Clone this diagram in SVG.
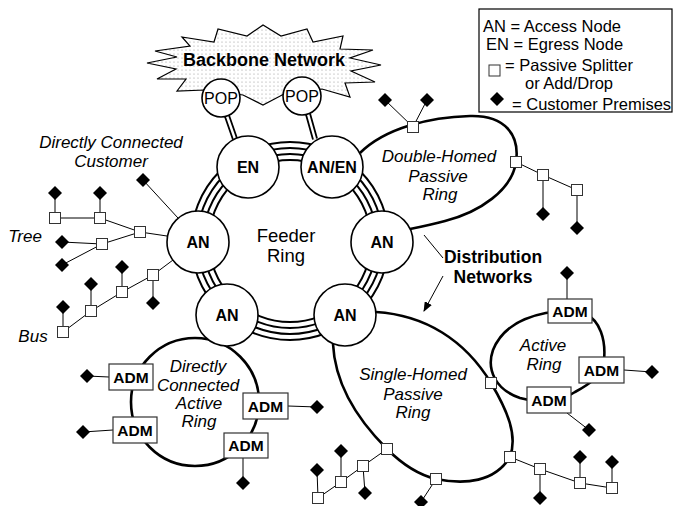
<svg xmlns="http://www.w3.org/2000/svg" xmlns:xlink="http://www.w3.org/1999/xlink" width="676" height="506" viewBox="0 0 676 506">
<style>
text{font-family:"Liberation Sans",Arial,sans-serif;fill:#000}
.lbl{font-size:17px;font-style:italic;text-anchor:middle}
.leg{font-size:16.5px}
.nd{font-size:16px;font-weight:bold;text-anchor:middle}
.adm{font-size:15.5px;font-weight:bold;text-anchor:middle}
.node{fill:#fff;stroke:#000;stroke-width:1.6}
.fr{fill:none;stroke:#000;stroke-width:2}
.dist{fill:none;stroke:#000;stroke-width:2.6}
.thin{fill:none;stroke:#000;stroke-width:1}
.sq{fill:#fff;stroke:#333;stroke-width:1}
.dia{fill:#000}
.box{fill:#fff;stroke:#333;stroke-width:1.2}
</style>
<defs>
<pattern id="dots" width="4" height="4" patternUnits="userSpaceOnUse">
<rect width="4" height="4" fill="#fff"/>
<circle cx="2" cy="2" r="0.6" fill="#999"/>
</pattern>
<rect id="sq" class="sq" x="-5.5" y="-5.5" width="11" height="11"/>
<path id="dia" class="dia" d="M0,-7L7,0L0,7L-7,0Z"/>
<marker id="arr" markerWidth="10" markerHeight="8" refX="9" refY="4" orient="auto" markerUnits="userSpaceOnUse">
<path d="M0,0L10,4L0,8Z" fill="#000"/>
</marker>
</defs>

<g id="backbone">
<polygon points="182,37 214,42 218,29 247,36 263,25 281,36 307,29 313,42 343,36 340,49 373,50 350,58 381,65 351,71 375,82 345,83 350,97 322,89 284,94 263,105 243,95 205,90 177,91 186,79 157,79 176,69 147,63 177,57 155,51 190,46" fill="url(#dots)" stroke="#000" stroke-width="1.2"/>
<text x="264" y="66" font-size="18" font-weight="bold" text-anchor="middle">Backbone Network</text>
</g>

<g id="connectors">
<!-- feeder ring bundle -->
<circle class="fr" cx="290" cy="241" r="81"/>
<circle class="fr" cx="290" cy="241" r="87"/>
<circle class="fr" cx="290" cy="241" r="93"/>
<circle class="fr" cx="290" cy="241" r="99"/>
<!-- POP links (double lines) -->
<path d="M227,116L235,139M308,114L315,139" stroke="#000" stroke-width="6" fill="none"/>
<path d="M227,116L235,139M308,114L315,139" stroke="#fff" stroke-width="2.4" fill="none"/>
<!-- distribution rings -->
<path class="dist" d="M360,153C385,128 430,117 470,116C505,115 520,135 516,162C512,190 480,212 445,221C430,225 420,227 410,229"/>
<path class="dist" d="M376,312C425,315 465,340 491,383C507,410 518,435 510,457C495,482 465,485 436,479C415,474 400,462 387,449C358,420 335,385 333,344"/>
<circle class="dist" cx="195" cy="402" r="64"/>
<path class="dist" d="M570,311C540,311 505,320 493,350C486,370 496,390 520,398C540,404 560,402 575,392C590,384 603,375 604,360C606,340 600,320 585,314C578,311 574,311 570,311Z"/>
<!-- left AN: direct customer, tree, bus -->
<path class="thin" d="M143,180L178,218M140,232L167,236M140,232L100,218L55,218M100,193L100,218M55,193L55,218M140,232L102,244L62,265M102,244L62,242"/>
<path class="thin" d="M173,260L153,275L122,292L91,311L63,332M122,267L122,292M91,284L91,311M63,307L63,332M153,275L153,303"/>
<!-- double homed ring branches -->
<path class="thin" d="M385,100L413,127L427,100M516,162L543,175L577,190M543,175L543,214M577,190L577,228"/>
<!-- single homed ring branches -->
<path class="thin" d="M510,457L540,469L580,483L612,488M540,469L540,498M580,483L580,457M612,488L612,462M436,479L421,502M387,449L363,466L341,482L318,498M363,466L365,493M341,482L341,451M318,498L317,470"/>
<!-- ADM customers -->
<path class="thin" d="M87,376L109,377M83,432L113,430M288,406L317,407M243,458L243,483M567,273L567,299M624,370L652,372M567,413L589,430"/>
<!-- distribution network arrows -->
<path class="thin" d="M443,258L424,235M443,276L424,311" marker-end="url(#arr)"/>
</g>

<g id="pop1"><circle class="node" cx="221" cy="98" r="19"/><text x="221" y="104" font-size="16" text-anchor="middle">POP</text></g>
<g id="pop2"><circle class="node" cx="302" cy="96" r="19"/><text x="302" y="102" font-size="16" text-anchor="middle">POP</text></g>

<g id="en"><circle class="node" cx="248" cy="167" r="31"/><text class="nd" x="248" y="173">EN</text></g>
<g id="an-en"><circle class="node" cx="332" cy="167" r="31"/><text class="nd" x="332" y="173">AN/EN</text></g>
<g id="an-left"><circle class="node" cx="198" cy="242" r="31"/><text class="nd" x="198" y="248">AN</text></g>
<g id="an-right"><circle class="node" cx="382" cy="242" r="31"/><text class="nd" x="382" y="248">AN</text></g>
<g id="an-bl"><circle class="node" cx="227" cy="315" r="31"/><text class="nd" x="227" y="321">AN</text></g>
<g id="an-br"><circle class="node" cx="345" cy="315" r="31"/><text class="nd" x="345" y="321">AN</text></g>

<g id="adm1"><rect class="box" x="109" y="364" width="44" height="26"/><text class="adm" x="131" y="383">ADM</text></g>
<g id="adm2"><rect class="box" x="113" y="417" width="44" height="26"/><text class="adm" x="135" y="436">ADM</text></g>
<g id="adm3"><rect class="box" x="243" y="393" width="45" height="26"/><text class="adm" x="265.5" y="412">ADM</text></g>
<g id="adm4"><rect class="box" x="224" y="433" width="44" height="25"/><text class="adm" x="246" y="451">ADM</text></g>
<g id="adm5"><rect class="box" x="548" y="299" width="44" height="24"/><text class="adm" x="570" y="317">ADM</text></g>
<g id="adm6"><rect class="box" x="579" y="357" width="45" height="26"/><text class="adm" x="601.5" y="376">ADM</text></g>
<g id="adm7"><rect class="box" x="527" y="387" width="44" height="26"/><text class="adm" x="549" y="406">ADM</text></g>

<g id="splitters">
<use id="s-tree-root" href="#sq" x="140" y="232"/>
<use id="s-tree-a" href="#sq" x="100" y="218"/>
<use id="s-tree-b" href="#sq" x="55" y="218"/>
<use id="s-tree-c" href="#sq" x="102" y="244"/>
<use id="s-bus-1" href="#sq" x="153" y="275"/>
<use id="s-bus-2" href="#sq" x="122" y="292"/>
<use id="s-bus-3" href="#sq" x="91" y="311"/>
<use id="s-bus-4" href="#sq" x="63" y="332"/>
<use id="s-dh-top" href="#sq" x="413" y="127"/>
<use id="s-dh-right" href="#sq" x="516" y="162"/>
<use id="s-dh-2" href="#sq" x="543" y="175"/>
<use id="s-dh-3" href="#sq" x="577" y="190"/>
<use id="s-sh-1" href="#sq" x="491" y="383"/>
<use id="s-sh-2" href="#sq" x="510" y="457"/>
<use id="s-sh-3" href="#sq" x="436" y="479"/>
<use id="s-sh-4" href="#sq" x="387" y="449"/>
<use id="s-sh-5" href="#sq" x="540" y="469"/>
<use id="s-sh-6" href="#sq" x="580" y="483"/>
<use id="s-sh-7" href="#sq" x="612" y="488"/>
<use id="s-sh-8" href="#sq" x="363" y="466"/>
<use id="s-sh-9" href="#sq" x="341" y="482"/>
<use id="s-sh-10" href="#sq" x="318" y="498"/>
</g>

<g id="customers">
<use id="c-direct" href="#dia" x="143" y="180"/>
<use id="c-t1" href="#dia" x="100" y="193"/>
<use id="c-t2" href="#dia" x="55" y="193"/>
<use id="c-t3" href="#dia" x="62" y="242"/>
<use id="c-t4" href="#dia" x="62" y="265"/>
<use id="c-b1" href="#dia" x="122" y="267"/>
<use id="c-b2" href="#dia" x="91" y="284"/>
<use id="c-b3" href="#dia" x="63" y="307"/>
<use id="c-b4" href="#dia" x="153" y="303"/>
<use id="c-dh1" href="#dia" x="385" y="100"/>
<use id="c-dh2" href="#dia" x="427" y="100"/>
<use id="c-dh3" href="#dia" x="543" y="214"/>
<use id="c-dh4" href="#dia" x="577" y="228"/>
<use id="c-sh1" href="#dia" x="540" y="498"/>
<use id="c-sh2" href="#dia" x="580" y="457"/>
<use id="c-sh3" href="#dia" x="612" y="462"/>
<use id="c-sh4" href="#dia" x="421" y="502"/>
<use id="c-sh5" href="#dia" x="365" y="493"/>
<use id="c-sh6" href="#dia" x="341" y="451"/>
<use id="c-sh7" href="#dia" x="317" y="470"/>
<use id="c-a1" href="#dia" x="87" y="376"/>
<use id="c-a2" href="#dia" x="83" y="432"/>
<use id="c-a3" href="#dia" x="317" y="407"/>
<use id="c-a4" href="#dia" x="243" y="483"/>
<use id="c-a5" href="#dia" x="567" y="273"/>
<use id="c-a6" href="#dia" x="652" y="372"/>
<use id="c-a7" href="#dia" x="589" y="430"/>
</g>

<g id="labels">
<text class="lbl" x="111" y="148">Directly Connected</text>
<text class="lbl" x="111" y="167">Customer</text>
<text class="lbl" x="25" y="242">Tree</text>
<text class="lbl" x="33" y="342">Bus</text>
<text x="286" y="242" font-size="18.5" text-anchor="middle">Feeder</text>
<text x="286" y="262" font-size="18.5" text-anchor="middle">Ring</text>
<text class="lbl" x="439" y="162">Double-Homed</text>
<text class="lbl" x="438" y="182">Passive</text>
<text class="lbl" x="440" y="200">Ring</text>
<text x="493" y="263" font-size="17.5" font-weight="bold" text-anchor="middle">Distribution</text>
<text x="493" y="283" font-size="17.5" font-weight="bold" text-anchor="middle">Networks</text>
<text class="lbl" x="413" y="380">Single-Homed</text>
<text class="lbl" x="413" y="400">Passive</text>
<text class="lbl" x="413" y="418">Ring</text>
<text class="lbl" x="543" y="351">Active</text>
<text class="lbl" x="544" y="370">Ring</text>
<text class="lbl" x="198" y="372">Directly</text>
<text class="lbl" x="198" y="391">Connected</text>
<text class="lbl" x="199" y="409">Active</text>
<text class="lbl" x="199" y="427">Ring</text>
</g>

<g id="legend">
<rect x="479" y="9" width="193" height="103" fill="#fff" stroke="#000" stroke-width="1.2"/>
<text class="leg" x="483" y="32">AN = Access Node</text>
<text class="leg" x="486" y="50">EN = Egress Node</text>
<use href="#sq" x="494.5" y="70.5"/>
<text class="leg" x="505" y="71">= Passive Splitter</text>
<text class="leg" x="525" y="89">or Add/Drop</text>
<use href="#dia" x="497" y="99"/>
<text class="leg" x="512" y="110">= Customer Premises</text>
</g>
</svg>
